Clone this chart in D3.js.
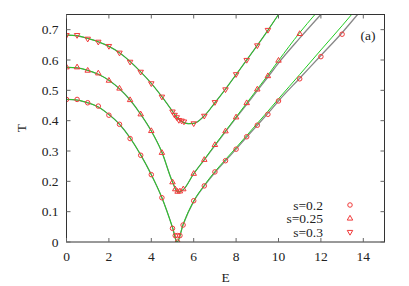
<!DOCTYPE html>
<html><head><meta charset="utf-8">
<script src="https://cdn.jsdelivr.net/npm/d3@7"></script>
<style>body{margin:0;background:#fff}svg{display:block}</style>
</head><body><svg id="c" width="409" height="286"></svg>
<script>
// ---------- data ----------
const xTicks = [0,2,4,6,8,10,12,14];
const yTicks = [0,0.1,0.2,0.3,0.4,0.5,0.6,0.7];
const seriesNames = ["s=0.2","s=0.25","s=0.3"];

// markers (E, T)
const mE02 = [0,0.5,1,1.5,2,2.5,3,3.5,4,4.5,5,5.13,5.24,5.35,5.24,5.5,6,6.5,7,7.5,8,8.5,9,9.5,10,11,12,13];
const mT02 = [0.470,0.470,0.459,0.448,0.418,0.388,0.341,0.286,0.222,0.146,0.045,0.021,0.021,0.021,0.0,0.056,0.136,0.185,0.231,0.268,0.306,0.347,0.385,0.421,0.465,0.538,0.611,0.685];
const mE025 = [0,0.5,1,1.5,2,2.5,3,3.5,4,4.5,5,5.13,5.24,5.35,5.51,6,6.5,7,7.5,8,8.5,9,9.5,10,11];
const mT025 = [0.576,0.576,0.565,0.556,0.532,0.506,0.468,0.421,0.366,0.294,0.197,0.174,0.166,0.167,0.174,0.225,0.271,0.320,0.365,0.411,0.458,0.503,0.547,0.598,0.686];
const mE03 = [0,0.5,1,1.5,2,2.5,3,3.5,4,4.5,5,5.1,5.2,5.3,5.43,5.54,6,6.5,7,7.5,8,8.5,9,9.5];
const mT03 = [0.682,0.682,0.670,0.660,0.646,0.624,0.594,0.561,0.523,0.479,0.430,0.419,0.411,0.402,0.400,0.397,0.391,0.416,0.461,0.503,0.553,0.600,0.648,0.699];

// theory curves (green)
const gE02 = [0,0.5,1,1.5,2,2.5,3,3.5,4,4.5,5,5.22,5.5,6,6.5,7,7.5,8,8.5,9,9.5,10,11,12,13,13.45];
const gT02 = [0.470,0.468,0.459,0.445,0.420,0.388,0.343,0.287,0.222,0.146,0.048,0.0,0.058,0.135,0.187,0.232,0.272,0.311,0.351,0.391,0.431,0.472,0.552,0.633,0.713,0.75];
const gE025 = [0,0.5,1,1.5,2,2.5,3,3.5,4,4.5,5,5.25,5.5,6,6.5,7,7.5,8,8.5,9,9.5,10,11,11.72];
const gT025 = [0.576,0.574,0.566,0.553,0.533,0.505,0.468,0.421,0.366,0.296,0.198,0.165,0.172,0.225,0.272,0.320,0.366,0.412,0.458,0.504,0.550,0.598,0.690,0.75];
const gE03 = [0,0.5,1,1.5,2,2.5,3,3.5,4,4.5,5,5.25,5.5,5.75,6,6.5,7,7.5,8,8.5,9,9.5,10];
const gT03 = [0.682,0.680,0.671,0.660,0.645,0.624,0.595,0.561,0.523,0.479,0.431,0.407,0.395,0.390,0.391,0.416,0.459,0.504,0.552,0.600,0.648,0.698,0.75];

// second theory curves (gray)
const kE02 = [0,0.5,1,1.5,2,2.5,3,3.5,4,4.5,5,5.22,5.5,6,6.5,7,7.5,8,8.5,9,9.5,10,11,12,13,13.73];
const kT02 = [0.470,0.468,0.459,0.445,0.420,0.388,0.343,0.287,0.222,0.146,0.048,0.0,0.057,0.134,0.185,0.229,0.268,0.306,0.346,0.385,0.424,0.465,0.540,0.615,0.690,0.75];
const kE025 = [0,0.5,1,1.5,2,2.5,3,3.5,4,4.5,5,5.25,5.5,6,6.5,7,7.5,8,8.5,9,9.5,10,11,12];
const kT025 = [0.576,0.574,0.566,0.553,0.533,0.505,0.468,0.421,0.366,0.296,0.198,0.165,0.172,0.225,0.271,0.318,0.364,0.409,0.454,0.499,0.544,0.590,0.672,0.75];
const kE03 = gE03;
const kT03 = gT03;

// ---------- drawing ----------
const FONT = "'Liberation Serif','Times New Roman','DejaVu Serif',serif";
const FS = 13.5;
const svg = d3.select("#c");
const x = d3.scaleLinear().domain([0,15]).range([66.5,384.5]);
const y = d3.scaleLinear().domain([0,0.75]).range([242,14.5]);
const red = "#f03a3a";

const zip = (a,b)=>a.map((v,i)=>[v,b[i]]);
const line = d3.line().x(d=>x(d[0])).y(d=>y(d[1])).curve(d3.curveMonotoneX);

svg.append("defs").append("clipPath").attr("id","clip").append("rect")
  .attr("x",x(0)).attr("y",y(0.75)).attr("width",x(15)-x(0)).attr("height",y(0)-y(0.75));
const plot = svg.append("g").attr("clip-path","url(#clip)");

[[kE02,kT02],[kE025,kT025],[kE03,kT03]].forEach(([e,t])=>{
  plot.append("path").attr("d",line(zip(e,t))).attr("fill","none").attr("stroke","#888").attr("stroke-width",1.3);
});
[[gE02,gT02],[gE025,gT025],[gE03,gT03]].forEach(([e,t])=>{
  plot.append("path").attr("d",line(zip(e,t))).attr("fill","none").attr("stroke","#22cc22").attr("stroke-width",1);
});

const sym = [d3.symbolCircle, d3.symbolTriangle, d3.symbolTriangle];
const symSize = [16, 13, 13];
function drawMarker(g, i, px, py){
  return g.append("path").attr("d", d3.symbol().type(sym[i]).size(symSize[i])())
    .attr("fill","none").attr("stroke",red).attr("stroke-width",1)
    .attr("transform", `translate(${px},${py})` + (i===2 ? " rotate(180)" : ""));
}
[[mE02,mT02],[mE025,mT025],[mE03,mT03]].forEach(([e,t],i)=>{
  zip(e,t).forEach(d=>drawMarker(plot,i,x(d[0]),y(d[1])));
});

// frame
svg.append("rect").attr("x",x(0)).attr("y",y(0.75)).attr("width",x(15)-x(0)).attr("height",y(0)-y(0.75))
  .attr("fill","none").attr("stroke","#333").attr("stroke-width",1);

const txt = (px,py,s,anchor)=>svg.append("text").attr("x",px).attr("y",py).attr("text-anchor",anchor)
  .attr("font-family",FONT).attr("font-size",FS).attr("fill","#222").text(s);

// ticks (inward, mirrored)
const tl = 4;
xTicks.forEach(v=>{
  svg.append("line").attr("x1",x(v)).attr("x2",x(v)).attr("y1",y(0)).attr("y2",y(0)-tl).attr("stroke","#666");
  svg.append("line").attr("x1",x(v)).attr("x2",x(v)).attr("y1",y(0.75)).attr("y2",y(0.75)+tl).attr("stroke","#666");
  txt(x(v),260.5,v,"middle");
});
yTicks.forEach(v=>{
  svg.append("line").attr("x1",x(0)).attr("x2",x(0)+tl).attr("y1",y(v)).attr("y2",y(v)).attr("stroke","#666");
  svg.append("line").attr("x1",x(15)).attr("x2",x(15)-tl).attr("y1",y(v)).attr("y2",y(v)).attr("stroke","#666");
  txt(58.5,y(v)+4.5,v,"end");
});

txt(x(7.5),281.5,"E","middle");
svg.append("text").attr("transform","translate(26,128) rotate(-90)").attr("text-anchor","middle")
  .attr("font-family",FONT).attr("font-size",FS).attr("fill","#222").text("T");
txt(368,39.5,"(a)","middle");

// legend
const legY = [205, 218.5, 232];
seriesNames.forEach((n,i)=>{
  txt(323,legY[i]+4.5,n,"end");
  drawMarker(svg,i,350,legY[i]);
});
</script></body></html>
